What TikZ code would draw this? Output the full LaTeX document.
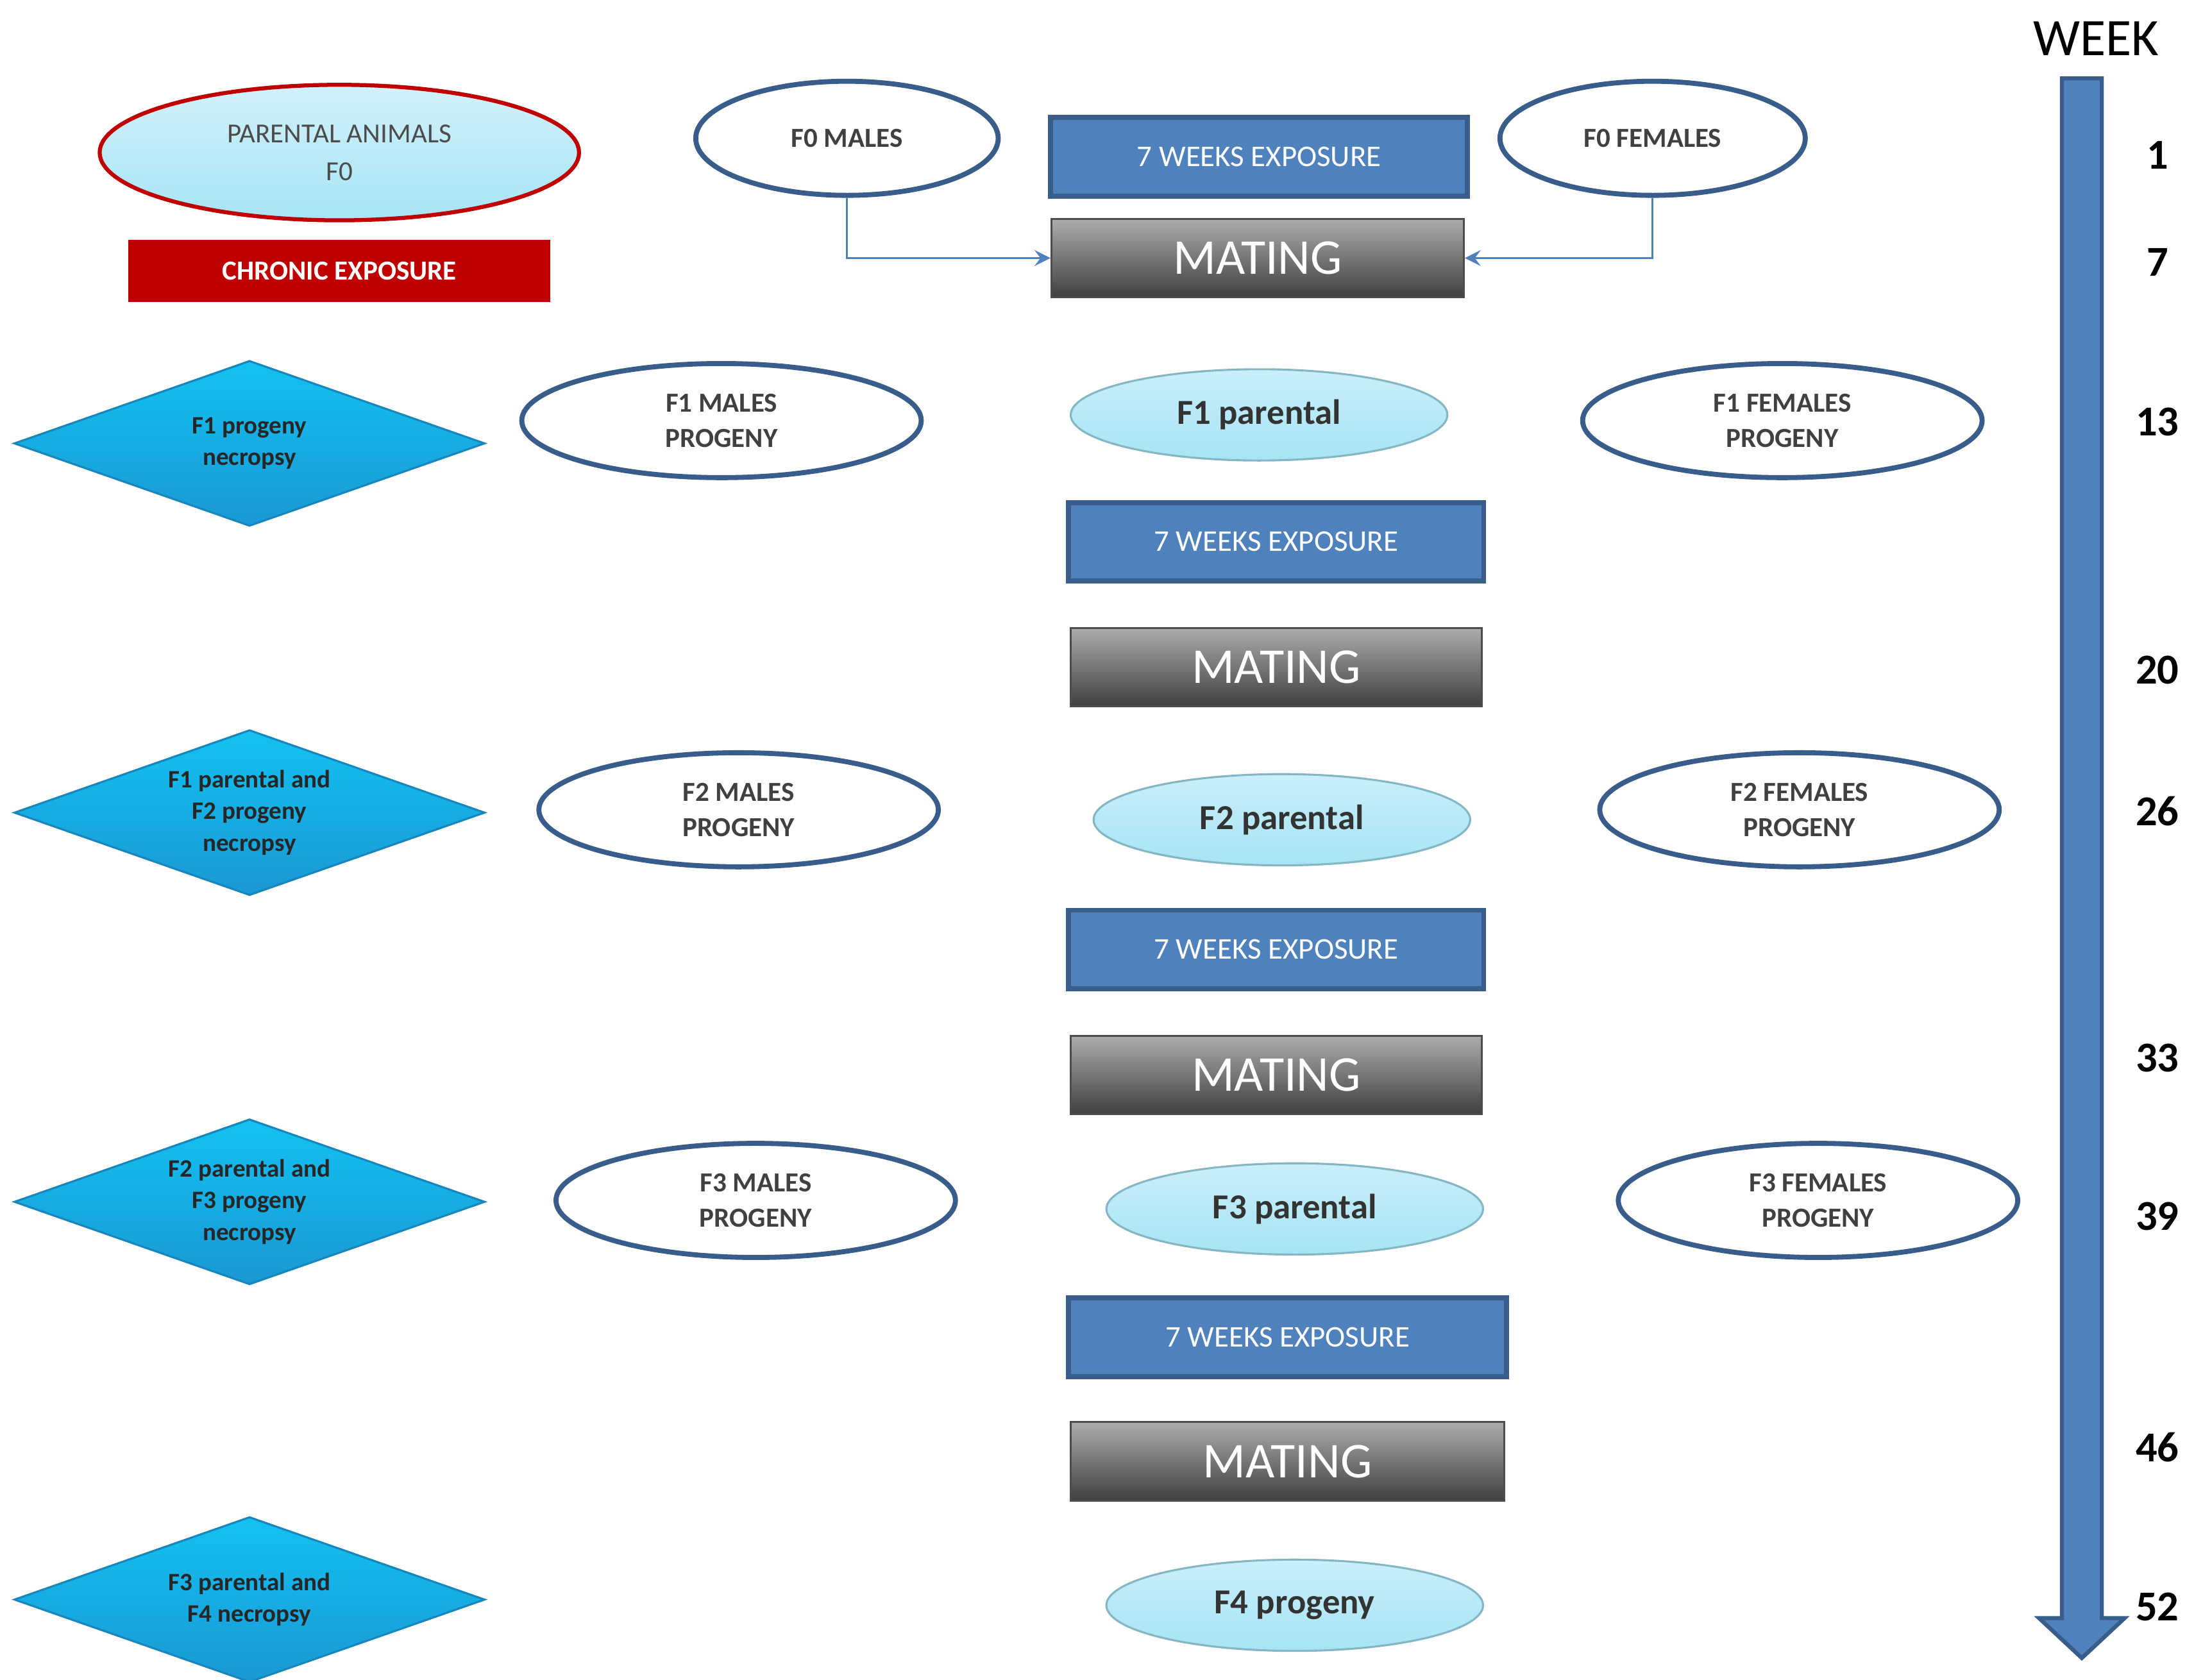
\documentclass[tikz,border=0pt]{standalone}
\usepackage{fontspec}
\setmainfont{Carlito}
\usetikzlibrary{positioning,shapes.geometric}
\definecolor{boxblue}{HTML}{4F81BD}
\definecolor{edgeblue}{HTML}{385D8A}
\definecolor{lightcyan}{HTML}{A6E4F5}
\definecolor{diamblue}{HTML}{1CA8EC}
\definecolor{chronred}{HTML}{C00000}
\tikzset{
  expo/.style={rectangle, draw=edgeblue, line width=1pt, fill=boxblue, text=white, font=\fontsize{6}{7}\selectfont, inner sep=1pt, minimum height=0.55cm},
  mating/.style={rectangle, draw=gray!60!black, top color=gray!65, bottom color=black!75, text=white, font=\fontsize{10}{11}\selectfont, inner sep=1pt, minimum height=0.55cm},
  sex/.style={ellipse, draw=edgeblue, line width=1pt, fill=white, text=black!75, align=center, inner sep=0pt, font=\fontsize{5.5}{7}\selectfont\bfseries, minimum width=2.8cm, minimum height=0.8cm},
  parent/.style={ellipse, draw=lightcyan!80!black, top color=lightcyan!60, bottom color=lightcyan, inner sep=0pt, font=\fontsize{7}{8}\selectfont\bfseries, text=black!80, minimum width=2.64cm, minimum height=0.64cm},
  necro/.style={diamond, draw=diamblue!80!black, top color=diamblue!70!cyan, bottom color=diamblue!90!black, inner sep=0pt, minimum width=3.3cm, minimum height=1.16cm},
  necrotext/.style={align=center, font=\fontsize{5}{6.3}\selectfont\bfseries, text=black!85},
  week/.style={font=\fontsize{8.5}{10}\selectfont\bfseries}
}
\begin{document}
\begin{tikzpicture}[x=0.01cm, y=-0.01cm, >=stealth]
\useasboundingbox (0,0) rectangle (1545,1178);

% F0
\node[ellipse, draw=chronred, line width=0.8pt, top color=lightcyan!50, bottom color=lightcyan, align=center, text=black!70, inner sep=0pt, font=\fontsize{5.5}{7.5}\selectfont, minimum width=3.36cm, minimum height=0.95cm] (PA) at (238,107) {PARENTAL ANIMALS\\F0};
\node[rectangle, fill=chronred, text=white, font=\fontsize{5.5}{7}\selectfont\bfseries, minimum width=2.96cm, minimum height=0.44cm] (CE) at (238,190) {CHRONIC EXPOSURE};
\node[sex, minimum width=2.12cm] (M0) at (594,97) {F0 MALES};
\node[sex, minimum width=2.14cm] (W0) at (1159,97) {F0 FEMALES};
\node[expo, minimum width=2.92cm] (E1) at (883,110) {7 WEEKS EXPOSURE};
\node[mating, minimum width=2.89cm] (MA1) at (882,181) {MATING};
\draw[->, boxblue] (M0.south) |- (MA1.west);
\draw[->, boxblue] (W0.south) |- (MA1.east);

% F1
\node[necro] (D1) at (175,311) {};
\node[necrotext] at (D1) {F1 progeny\\necropsy};
\node[sex] (M1) at (506,295) {F1 MALES\\PROGENY};
\node[parent] (P1) at (883,291) {F1 parental};
\node[sex] (W1) at (1250,295) {F1 FEMALES\\PROGENY};
\node[expo, minimum width=2.91cm] (E2) at (895,380) {7 WEEKS EXPOSURE};
\node[mating, minimum width=2.88cm] (MA2) at (895,468) {MATING};

% F2
\node[necro] (D2) at (175,570) {};
\node[necrotext] at (D2) {F1 parental and\\F2 progeny\\necropsy};
\node[sex] (M2) at (518,568) {F2 MALES\\PROGENY};
\node[parent] (P2) at (899,575) {F2 parental};
\node[sex] (W2) at (1262,568) {F2 FEMALES\\PROGENY};
\node[expo, minimum width=2.91cm] (E3) at (895,666) {7 WEEKS EXPOSURE};
\node[mating, minimum width=2.88cm] (MA3) at (895,754) {MATING};

% F3
\node[necro] (D3) at (175,843) {};
\node[necrotext] at (D3) {F2 parental and\\F3 progeny\\necropsy};
\node[sex] (M3) at (530,842) {F3 MALES\\PROGENY};
\node[parent] (P3) at (908,848) {F3 parental};
\node[sex] (W3) at (1275,842) {F3 FEMALES\\PROGENY};
\node[expo, minimum width=3.07cm] (E4) at (903,938) {7 WEEKS EXPOSURE};
\node[mating, minimum width=3.04cm] (MA4) at (903,1025) {MATING};

% F4
\node[necro] (D4) at (175,1122) {};
\node[necrotext] at (D4) {F3 parental and\\F4 necropsy};
\node[parent] (P4) at (908,1126) {F4 progeny};

% Timeline
\node[font=\fontsize{10.5}{12}\selectfont] (WK) at (1470,27) {WEEK};
\filldraw[fill=boxblue, draw=edgeblue, line width=0.8pt] (1446,55) -- (1474,55) -- (1474,1135) -- (1490,1135) -- (1460,1163) -- (1430,1135) -- (1446,1135) -- cycle;
\foreach \wk/\yy in {1/109, 7/184, 13/296, 20/470, 26/569, 33/742, 39/853, 46/1015, 52/1127}
  \node[week] (W\wk) at (1513,\yy) {\wk};

\end{tikzpicture}
\end{document}
